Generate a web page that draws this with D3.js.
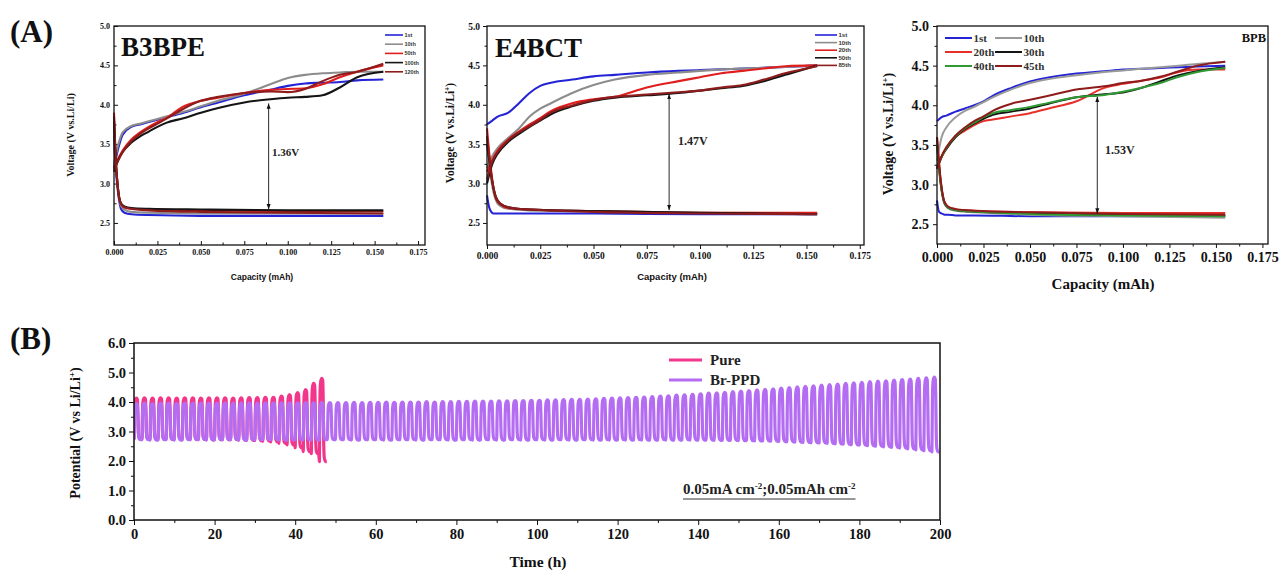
<!DOCTYPE html>
<html>
<head>
<meta charset="utf-8">
<script src="https://cdn.jsdelivr.net/npm/d3@7"></script>
<style>
body { margin: 0; background: #fff; }
svg { display: block; }
</style>
</head>
<body>
<svg id="chart"></svg>
<script>
const SERIF = "'Liberation Serif', 'Times New Roman', serif";
const SANS = "'Liberation Sans', Arial, sans-serif";

// ---- shared axis ticks (panel A) ----
const capTicks = [0, 0.025, 0.05, 0.075, 0.1, 0.125, 0.15, 0.175];
const voltTicks = [2.5, 3.0, 3.5, 4.0, 4.5, 5.0];

// capacity grids the curves were read on (mAh)
const capGrid = [0, 0.0025, 0.005, 0.01, 0.015, 0.02, 0.025, 0.03, 0.04, 0.05, 0.06, 0.075, 0.09, 0.1, 0.11, 0.12, 0.13, 0.14, 0.155];
const capGridDis = [0, 0.001, 0.002, 0.003, 0.004, 0.006, 0.01, 0.02, 0.05, 0.1, 0.155];

// ---- B3BPE ----
const b3bpeCycles = ["1st", "10th", "50th", "100th", "120th"];
const b3bpeColors = ["#2424d6", "#8c8c8c", "#e01e1e", "#141414", "#8e1c1c"];
const b3bpeCharge = [
  [3.2, 3.45, 3.62, 3.72, 3.75, 3.78, 3.81, 3.84, 3.9, 3.97, 4.03, 4.12, 4.19, 4.24, 4.27, 4.28, 4.29, 4.31, 4.32],
  [3.25, 3.5, 3.65, 3.73, 3.76, 3.79, 3.82, 3.85, 3.91, 3.98, 4.05, 4.14, 4.26, 4.34, 4.38, 4.4, 4.41, 4.42, 4.42],
  [3.2, 3.32, 3.42, 3.56, 3.65, 3.72, 3.78, 3.83, 3.98, 4.05, 4.09, 4.15, 4.19, 4.2, 4.21, 4.26, 4.35, 4.42, 4.5],
  [3.15, 3.3, 3.4, 3.52, 3.6, 3.66, 3.72, 3.77, 3.83, 3.9, 3.96, 4.03, 4.07, 4.09, 4.1, 4.12, 4.22, 4.35, 4.42],
  [3.18, 3.3, 3.4, 3.54, 3.63, 3.7, 3.76, 3.82, 3.95, 4.05, 4.1, 4.15, 4.17, 4.16, 4.2, 4.3, 4.38, 4.42, 4.52]
];
const b3bpeDischarge = [
  [3.6, 3.2, 2.95, 2.78, 2.68, 2.63, 2.61, 2.6, 2.59, 2.59, 2.59],
  [3.7, 3.25, 2.98, 2.8, 2.72, 2.67, 2.64, 2.63, 2.62, 2.62, 2.62],
  [3.9, 3.3, 3.0, 2.82, 2.74, 2.7, 2.68, 2.67, 2.66, 2.65, 2.65],
  [3.8, 3.3, 3.0, 2.82, 2.75, 2.71, 2.69, 2.68, 2.67, 2.66, 2.66],
  [3.85, 3.3, 3.0, 2.82, 2.74, 2.7, 2.68, 2.66, 2.64, 2.63, 2.62]
];
const b3bpeGap = [0.089, 4.03, 2.66];   // capacity, top V, bottom V

// ---- E4BCT ----
const e4bctCycles = ["1st", "10th", "20th", "50th", "85th"];
const e4bctColors = ["#2424d6", "#8c8c8c", "#e01e1e", "#141414", "#8e1c1c"];
const e4bctCharge = [
  [3.75, 3.8, 3.85, 3.9, 4.02, 4.15, 4.24, 4.28, 4.32, 4.36, 4.38, 4.41, 4.43, 4.44, 4.45, 4.46, 4.47, 4.48, 4.5],
  [3.2, 3.35, 3.45, 3.58, 3.7, 3.85, 3.95, 4.02, 4.15, 4.25, 4.32, 4.38, 4.41, 4.43, 4.45, 4.46, 4.47, 4.48, 4.5],
  [3.15, 3.3, 3.42, 3.56, 3.66, 3.75, 3.83, 3.92, 4.02, 4.07, 4.1, 4.22, 4.3, 4.35, 4.4, 4.43, 4.46, 4.49, 4.5],
  [3.0, 3.25, 3.38, 3.53, 3.63, 3.72, 3.8, 3.88, 3.98, 4.05, 4.09, 4.12, 4.15, 4.18, 4.21, 4.24, 4.3, 4.38, 4.5],
  [3.05, 3.28, 3.4, 3.55, 3.65, 3.73, 3.81, 3.9, 3.99, 4.06, 4.1, 4.13, 4.16, 4.18, 4.22, 4.25, 4.32, 4.4, 4.49]
];
const e4bctDischarge = [
  [2.85, 2.7, 2.64, 2.62, 2.62, 2.62, 2.62, 2.62, 2.62, 2.61, 2.61],
  [3.6, 3.3, 3.05, 2.9, 2.8, 2.72, 2.68, 2.66, 2.65, 2.63, 2.62],
  [3.7, 3.4, 3.15, 2.95, 2.83, 2.74, 2.69, 2.67, 2.65, 2.63, 2.63],
  [3.5, 3.3, 3.1, 2.95, 2.84, 2.75, 2.7, 2.67, 2.65, 2.63, 2.61],
  [3.6, 3.35, 3.12, 2.95, 2.84, 2.75, 2.7, 2.67, 2.64, 2.62, 2.61]
];
const e4bctGap = [0.0855, 4.15, 2.65];

// ---- BPB ----
const bpbCycles = ["1st", "10th", "20th", "30th", "40th", "45th"];
const bpbColors = ["#2424d6", "#9a9a9a", "#e8302a", "#141414", "#2f9a34", "#8e1c1c"];
const bpbCharge = [
  [3.8, 3.85, 3.87, 3.92, 3.96, 4.0, 4.05, 4.12, 4.22, 4.3, 4.35, 4.4, 4.43, 4.45, 4.46, 4.47, 4.48, 4.49, 4.5],
  [3.3, 3.6, 3.72, 3.85, 3.93, 3.98, 4.04, 4.1, 4.2, 4.28, 4.33, 4.38, 4.42, 4.44, 4.46, 4.48, 4.5, 4.52, 4.55],
  [3.2, 3.35, 3.45, 3.6, 3.68, 3.75, 3.8, 3.82, 3.86, 3.9, 3.96, 4.05, 4.22, 4.27, 4.31, 4.35, 4.42, 4.45, 4.45],
  [3.2, 3.35, 3.45, 3.6, 3.7, 3.77, 3.83, 3.88, 3.92, 3.96, 4.02, 4.1, 4.14, 4.16, 4.22, 4.3, 4.38, 4.43, 4.48],
  [3.2, 3.35, 3.46, 3.61, 3.71, 3.78, 3.85, 3.9, 3.94, 3.98, 4.03, 4.1, 4.13, 4.17, 4.22, 4.28, 4.36, 4.42, 4.47],
  [3.2, 3.36, 3.47, 3.62, 3.72, 3.8, 3.86, 3.93, 4.02, 4.07, 4.12, 4.2, 4.24, 4.28, 4.31, 4.36, 4.43, 4.5, 4.55]
];
const bpbDischarge = [
  [2.8, 2.66, 2.64, 2.63, 2.62, 2.62, 2.61, 2.61, 2.6, 2.6, 2.6],
  [3.5, 3.2, 3.0, 2.85, 2.76, 2.7, 2.67, 2.65, 2.62, 2.6, 2.58],
  [3.6, 3.3, 3.05, 2.88, 2.78, 2.72, 2.69, 2.67, 2.65, 2.64, 2.64],
  [3.5, 3.25, 3.02, 2.86, 2.77, 2.71, 2.68, 2.66, 2.64, 2.62, 2.61],
  [3.5, 3.25, 3.02, 2.86, 2.77, 2.71, 2.68, 2.66, 2.63, 2.61, 2.6],
  [3.6, 3.3, 3.05, 2.88, 2.78, 2.72, 2.69, 2.67, 2.65, 2.63, 2.62]
];
const bpbGap = [0.0862, 4.12, 2.62];

// ---- panel B: galvanostatic cycling, one value per 2 h cycle ----
const cycleHours = 2;
const timeTicks = [0, 20, 40, 60, 80, 100, 120, 140, 160, 180, 200];
const potentialTicks = [0, 1, 2, 3, 4, 5, 6];
const pureTop = [4.13, 4.14, 4.13, 4.14, 4.14, 4.13, 4.14, 4.14, 4.13, 4.14, 4.14, 4.14,
  4.13, 4.14, 4.15, 4.15, 4.16, 4.16, 4.2, 4.25, 4.32, 4.42, 4.63, 4.8];
const pureBottom = [2.74, 2.73, 2.74, 2.73, 2.73, 2.74, 2.73, 2.73, 2.73, 2.72, 2.72, 2.72,
  2.72, 2.71, 2.7, 2.69, 2.67, 2.65, 2.6, 2.55, 2.45, 2.32, 2.25, 1.98];
const brTop = [
  3.95, 3.96, 3.95, 3.96, 3.96, 3.95, 3.96, 3.96, 3.96, 3.96,
  3.96, 3.97, 3.96, 3.97, 3.97, 3.96, 3.97, 3.97, 3.97, 3.97,
  3.97, 3.98, 3.97, 3.98, 3.98, 3.98, 3.98, 3.99, 3.98, 3.99,
  3.99, 4.0, 3.99, 4.0, 4.0, 4.0, 4.01, 4.0, 4.01, 4.01,
  4.02, 4.02, 4.03, 4.03, 4.03, 4.04, 4.04, 4.05, 4.05, 4.06,
  4.06, 4.07, 4.07, 4.08, 4.09, 4.09, 4.1, 4.11, 4.12, 4.13,
  4.14, 4.15, 4.16, 4.17, 4.18, 4.2, 4.21, 4.23, 4.24, 4.26,
  4.28, 4.3, 4.31, 4.33, 4.35, 4.37, 4.39, 4.41, 4.43, 4.45,
  4.47, 4.49, 4.51, 4.53, 4.55, 4.57, 4.59, 4.61, 4.63, 4.65,
  4.67, 4.69, 4.71, 4.72, 4.74, 4.76, 4.78, 4.8, 4.82, 4.84
];
const brBottom = [
  2.72, 2.72, 2.71, 2.72, 2.72, 2.71, 2.72, 2.72, 2.72, 2.71,
  2.72, 2.72, 2.72, 2.71, 2.72, 2.72, 2.72, 2.72, 2.71, 2.72,
  2.72, 2.72, 2.71, 2.72, 2.72, 2.72, 2.72, 2.71, 2.72, 2.72,
  2.72, 2.71, 2.72, 2.72, 2.72, 2.71, 2.72, 2.72, 2.72, 2.71,
  2.72, 2.72, 2.71, 2.72, 2.72, 2.71, 2.72, 2.72, 2.71, 2.72,
  2.72, 2.71, 2.72, 2.72, 2.71, 2.72, 2.72, 2.71, 2.72, 2.71,
  2.72, 2.71, 2.72, 2.71, 2.71, 2.72, 2.71, 2.71, 2.72, 2.71,
  2.71, 2.71, 2.7, 2.7, 2.7, 2.69, 2.69, 2.68, 2.68, 2.67,
  2.66, 2.65, 2.64, 2.63, 2.62, 2.61, 2.6, 2.58, 2.57, 2.55,
  2.54, 2.52, 2.5, 2.48, 2.46, 2.44, 2.41, 2.38, 2.35, 2.31
];
// shape of one charge/discharge cycle: fraction of cycle time, fraction of swing
const cycleShapeT = [0, 0.05, 0.1, 0.18, 0.3, 0.42, 0.48, 0.54, 0.62, 0.78, 0.92];
const cycleShapeV = [0, 0.6, 0.88, 0.97, 1.0, 0.97, 0.7, 0.2, 0.04, 0.0, 0.0];

const svg = d3.select("#chart").attr("width", 1279).attr("height", 571);

svg.append("defs").append("marker")
  .attr("id", "arrowHead")
  .attr("viewBox", "0 0 8 8")
  .attr("refX", 8).attr("refY", 4)
  .attr("markerWidth", 6).attr("markerHeight", 6)
  .attr("orient", "auto-start-reverse")
  .append("path").attr("d", "M0,1 L8,4 L0,7 Z").attr("fill", "#111");

function styleTicks(g, size, family) {
  g.selectAll(".domain").remove();
  g.selectAll(".tick line").attr("stroke", "#111").attr("stroke-width", 1);
  g.selectAll(".tick text")
    .attr("font-size", size).attr("font-family", family)
    .attr("font-weight", "bold").attr("fill", "#111");
}

function addYLabel(g, x, y, size, family, main, sup, tail) {
  const t = g.append("text")
    .attr("transform", `translate(${x},${y}) rotate(-90)`)
    .attr("text-anchor", "middle")
    .attr("font-family", family).attr("font-weight", "bold")
    .attr("font-size", size).attr("fill", "#111");
  t.append("tspan").text(main);
  if (sup) {
    t.append("tspan").attr("baseline-shift", "super").attr("font-size", size * 0.65).text(sup);
  }
  t.append("tspan").text(tail);
}

function drawCapacityPanel(svg, cfg) {
  const x = d3.scaleLinear().domain([0, cfg.xMax]).range(cfg.xRange);
  const y = d3.scaleLinear().domain([cfg.yMin, 5.0]).range(cfg.yRange);
  const g = svg.append("g");
  const left = cfg.xRange[0], right = cfg.xRange[1];
  const bottom = cfg.yRange[0], top = cfg.yRange[1];
  const dir = cfg.tickDir;

  // minor ticks
  g.append("g").attr("transform", `translate(0,${bottom})`)
    .call(d3.axisBottom(x).tickValues(d3.pairs(capTicks, (a, b) => (a + b) / 2)).tickSize(dir * 2.5).tickFormat(""))
    .call(a => styleTicks(a, cfg.tickFont, SERIF));
  g.append("g").attr("transform", `translate(${left},0)`)
    .call(d3.axisLeft(y).tickValues(d3.pairs(voltTicks, (a, b) => (a + b) / 2)).tickSize(dir * 2.5).tickFormat(""))
    .call(a => styleTicks(a, cfg.tickFont, SERIF));

  // major ticks
  g.append("g").attr("transform", `translate(0,${bottom})`)
    .call(d3.axisBottom(x).tickValues(capTicks).tickSize(dir * 4).tickPadding(cfg.tickPad).tickFormat(d3.format(".3f")))
    .call(a => styleTicks(a, cfg.tickFont, SERIF));
  g.append("g").attr("transform", `translate(${left},0)`)
    .call(d3.axisLeft(y).tickValues(voltTicks).tickSize(dir * 4).tickPadding(cfg.tickPad).tickFormat(d3.format(".1f")))
    .call(a => styleTicks(a, cfg.tickFont, SERIF));

  const lineC = d3.line().x((d, i) => x(capGrid[i])).y(d => y(d)).curve(d3.curveMonotoneX);
  const lineD = d3.line().x((d, i) => x(capGridDis[i])).y(d => y(d)).curve(d3.curveMonotoneX);

  const curves = g.append("g");
  cfg.cycles.forEach((c, i) => {
    curves.append("path").attr("d", lineD(cfg.discharge[i]))
      .attr("fill", "none").attr("stroke", cfg.colors[i]).attr("stroke-width", cfg.lineWidth);
    curves.append("path").attr("d", lineC(cfg.charge[i]))
      .attr("fill", "none").attr("stroke", cfg.colors[i]).attr("stroke-width", cfg.lineWidth);
  });

  // frame
  g.append("rect")
    .attr("x", left).attr("y", top)
    .attr("width", right - left).attr("height", bottom - top)
    .attr("fill", "none").attr("stroke", "#111").attr("stroke-width", 1.3);

  // voltage gap arrow
  g.append("line")
    .attr("x1", x(cfg.gap[0])).attr("x2", x(cfg.gap[0]))
    .attr("y1", y(cfg.gap[1]) + 1).attr("y2", y(cfg.gap[2]) - 1)
    .attr("stroke", "#111").attr("stroke-width", 0.9)
    .attr("marker-start", "url(#arrowHead)").attr("marker-end", "url(#arrowHead)");
  g.append("text")
    .attr("x", cfg.gapLabel.x).attr("y", cfg.gapLabel.y)
    .attr("font-family", SERIF).attr("font-weight", "bold")
    .attr("font-size", cfg.gapLabel.size).attr("fill", "#222")
    .text(cfg.gapLabel.text);

  // title
  g.append("text")
    .attr("x", cfg.title.x).attr("y", cfg.title.y)
    .attr("text-anchor", cfg.title.anchor || "start")
    .attr("font-family", SERIF).attr("font-weight", "bold")
    .attr("font-size", cfg.title.size).attr("fill", "#111")
    .text(cfg.title.text);

  // legend
  const L = cfg.legend;
  cfg.cycles.forEach((c, i) => {
    const col = i % L.cols, row = Math.floor(i / L.cols);
    const lx = L.x + col * L.colW, ly = L.y + row * L.rowH;
    g.append("line")
      .attr("x1", lx).attr("x2", lx + L.lineLen).attr("y1", ly).attr("y2", ly)
      .attr("stroke", cfg.colors[i]).attr("stroke-width", L.lineWidth);
    g.append("text")
      .attr("x", lx + L.lineLen + 1.5).attr("y", ly)
      .attr("dominant-baseline", "central")
      .attr("font-family", L.family).attr("font-weight", "bold")
      .attr("font-size", L.size).attr("fill", "#333")
      .text(c);
  });

  // axis labels
  g.append("text")
    .attr("x", cfg.xLabel.x).attr("y", cfg.xLabel.y)
    .attr("text-anchor", "middle")
    .attr("font-family", cfg.xLabel.family).attr("font-weight", "bold")
    .attr("font-size", cfg.xLabel.size).attr("fill", "#111")
    .text("Capacity (mAh)");
  addYLabel(g, cfg.yLabel.x, cfg.yLabel.y, cfg.yLabel.size, SERIF, "Voltage (V vs.Li/Li", cfg.yLabel.sup, ")");
}

drawCapacityPanel(svg, {
  xRange: [114, 425], yRange: [245, 26], xMax: 0.179, yMin: 2.22,
  tickDir: -1, tickFont: 8, tickPad: 4, lineWidth: 2.1,
  cycles: b3bpeCycles, colors: b3bpeColors, charge: b3bpeCharge, discharge: b3bpeDischarge,
  gap: b3bpeGap, gapLabel: { x: 272, y: 156, size: 11, text: "1.36V" },
  title: { x: 121, y: 56, size: 27, text: "B3BPE" },
  legend: { x: 385, y: 35, rowH: 9.2, colW: 0, cols: 1, lineLen: 18, lineWidth: 1.6, size: 5.5, family: SANS },
  xLabel: { x: 262, y: 280, size: 8.5, family: SANS },
  yLabel: { x: 74, y: 135, size: 10, sup: null }
});

drawCapacityPanel(svg, {
  xRange: [487, 864], yRange: [245, 26], xMax: 0.1770, yMin: 2.22,
  tickDir: 1, tickFont: 9.5, tickPad: 3, lineWidth: 2.1,
  cycles: e4bctCycles, colors: e4bctColors, charge: e4bctCharge, discharge: e4bctDischarge,
  gap: e4bctGap, gapLabel: { x: 678, y: 145, size: 12, text: "1.47V" },
  title: { x: 495, y: 57, size: 27, text: "E4BCT" },
  legend: { x: 815, y: 35, rowH: 7.6, colW: 0, cols: 1, lineLen: 22, lineWidth: 1.6, size: 6, family: SANS },
  xLabel: { x: 672, y: 280, size: 9.5, family: SANS },
  yLabel: { x: 454, y: 133, size: 11.5, sup: "+" }
});

drawCapacityPanel(svg, {
  xRange: [937, 1268], yRange: [244, 26], xMax: 0.178, yMin: 2.25,
  tickDir: 1, tickFont: 14, tickPad: 4, lineWidth: 2,
  cycles: bpbCycles, colors: bpbColors, charge: bpbCharge, discharge: bpbDischarge,
  gap: bpbGap, gapLabel: { x: 1105, y: 154, size: 12, text: "1.53V" },
  title: { x: 1266, y: 42, size: 12.5, text: "BPB", anchor: "end" },
  legend: { x: 945, y: 38, rowH: 14, colW: 50, cols: 2, lineLen: 27, lineWidth: 2, size: 11, family: SERIF },
  xLabel: { x: 1103, y: 289, size: 15, family: SERIF },
  yLabel: { x: 893, y: 134, size: 14, sup: "+" }
});

// ---- panel B ----
function drawCyclingPanel(svg) {
  const x = d3.scaleLinear().domain([0, 200]).range([134, 940]);
  const y = d3.scaleLinear().domain([0, 6]).range([520, 343]);
  const g = svg.append("g");

  g.append("clipPath").attr("id", "clipB")
    .append("rect").attr("x", 134).attr("y", 343).attr("width", 806).attr("height", 177);

  function cyclePoints(tops, bottoms) {
    const pts = [];
    tops.forEach((topV, k) => {
      cycleShapeT.forEach((f, j) => {
        pts.push([(k + f) * cycleHours, bottoms[k] + cycleShapeV[j] * (topV - bottoms[k])]);
      });
    });
    return pts;
  }

  const line = d3.line().x(d => x(d[0])).y(d => y(d[1])).curve(d3.curveMonotoneX);
  const series = [
    { name: "Pure", color: "#f2368c", pts: cyclePoints(pureTop, pureBottom) },
    { name: "Br-PPD", color: "#b46cf2", pts: cyclePoints(brTop, brBottom) }
  ];
  const plot = g.append("g").attr("clip-path", "url(#clipB)");
  series.forEach(s => {
    plot.append("path").attr("d", line(s.pts))
      .attr("fill", "none").attr("stroke", s.color)
      .attr("stroke-width", 3.2).attr("stroke-linejoin", "round");
  });

  g.append("g").attr("transform", "translate(0,520)")
    .call(d3.axisBottom(x).tickValues(d3.pairs(timeTicks, (a, b) => (a + b) / 2)).tickSize(3).tickFormat(""))
    .call(a => styleTicks(a, 14, SERIF));
  g.append("g").attr("transform", "translate(134,0)")
    .call(d3.axisLeft(y).tickValues(d3.pairs(potentialTicks, (a, b) => (a + b) / 2)).tickSize(3).tickFormat(""))
    .call(a => styleTicks(a, 14, SERIF));
  g.append("g").attr("transform", "translate(0,520)")
    .call(d3.axisBottom(x).tickValues(timeTicks).tickSize(5).tickPadding(4))
    .call(a => styleTicks(a, 14.5, SERIF));
  g.append("g").attr("transform", "translate(134,0)")
    .call(d3.axisLeft(y).tickValues(potentialTicks).tickSize(5).tickPadding(3).tickFormat(d3.format(".1f")))
    .call(a => styleTicks(a, 14.5, SERIF));

  g.append("rect")
    .attr("x", 134).attr("y", 343).attr("width", 806).attr("height", 177)
    .attr("fill", "none").attr("stroke", "#111").attr("stroke-width", 1.5);

  // legend
  series.forEach((s, i) => {
    const ly = 360 + i * 20;
    g.append("line").attr("x1", 669).attr("x2", 702).attr("y1", ly).attr("y2", ly)
      .attr("stroke", s.color).attr("stroke-width", 3);
    g.append("text").attr("x", 710).attr("y", ly)
      .attr("dominant-baseline", "central")
      .attr("font-family", SERIF).attr("font-weight", "bold").attr("font-size", 15)
      .attr("fill", "#222").text(s.name);
  });

  // current density note
  const note = g.append("text").attr("x", 683).attr("y", 494)
    .attr("font-family", SERIF).attr("font-weight", "bold").attr("font-size", 15).attr("fill", "#222");
  note.append("tspan").text("0.05mA cm");
  note.append("tspan").attr("baseline-shift", "super").attr("font-size", 9).text("-2");
  note.append("tspan").text(";0.05mAh cm");
  note.append("tspan").attr("baseline-shift", "super").attr("font-size", 9).text("-2");
  const w = note.node().getComputedTextLength();
  g.append("line").attr("x1", 683).attr("x2", 683 + w).attr("y1", 499).attr("y2", 499)
    .attr("stroke", "#333").attr("stroke-width", 1);

  g.append("text").attr("x", 538).attr("y", 567)
    .attr("text-anchor", "middle")
    .attr("font-family", SERIF).attr("font-weight", "bold").attr("font-size", 15.5)
    .attr("fill", "#111").text("Time (h)");
  addYLabel(g, 80, 433, 14, SERIF, "Potential (V vs Li/Li", "+", ")");
}
drawCyclingPanel(svg);

// panel letters
[["(A)", 10, 42], ["(B)", 10, 349]].forEach(([t, px, py]) => {
  svg.append("text").attr("x", px).attr("y", py)
    .attr("font-family", SERIF).attr("font-weight", "bold").attr("font-size", 31)
    .attr("fill", "#111").text(t);
});
</script>
</body>
</html>
